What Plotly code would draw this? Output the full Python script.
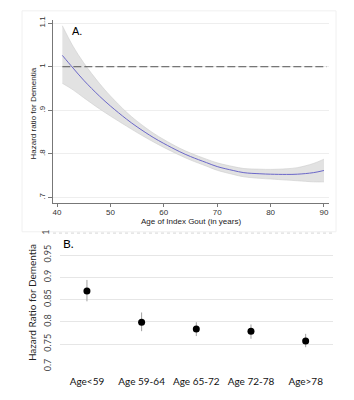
import plotly.graph_objects as go

# Panel A: spline curve of hazard ratio vs age at index gout
ages = [41, 43, 45, 48, 50, 53, 55, 58, 60, 63, 65, 68, 70, 73, 75, 78, 80, 83, 85, 88, 90]
hr = [1.026, 0.997, 0.969, 0.932, 0.910, 0.880, 0.862, 0.838, 0.824, 0.805, 0.794, 0.780, 0.771, 0.762, 0.757, 0.7545, 0.7535, 0.753, 0.7535, 0.757, 0.762]
hr_upper = [1.094, 1.047, 1.009, 0.961, 0.933, 0.896, 0.875, 0.848, 0.833, 0.813, 0.802, 0.788, 0.7795, 0.771, 0.7665, 0.765, 0.7645, 0.766, 0.7685, 0.778, 0.788]
hr_lower = [0.962, 0.947, 0.929, 0.903, 0.887, 0.864, 0.849, 0.828, 0.815, 0.797, 0.786, 0.772, 0.7625, 0.753, 0.7475, 0.744, 0.7425, 0.740, 0.7385, 0.736, 0.736]
a_yticks = [0.7, 0.8, 0.9, 1.0, 1.1]
a_yticklabels = [".7", ".8", ".9", "1", "1.1"]
a_xticks = [40, 50, 60, 70, 80, 90]

# Panel B: categorical age groups
groups = ["Age<59", "Age 59-64", "Age 65-72", "Age 72-78", "Age>78"]
grp_hr = [0.869, 0.799, 0.784, 0.779, 0.757]
grp_upper = [0.894, 0.821, 0.799, 0.794, 0.773]
grp_lower = [0.846, 0.779, 0.768, 0.762, 0.743]
b_yticks = [0.7, 0.75, 0.8, 0.85, 0.9, 0.95, 1.0]
b_yticklabels = ["0.7", "0.75", "0.8", "0.85", "0.9", "0.95", "1"]

W, H = 354, 400
def px(x):
    return x / W
def py(y):
    return 1 - y / H

fig = go.Figure()

# CI band
fig.add_trace(go.Scatter(x=ages, y=hr_lower, mode="lines", line=dict(color="#cccccc", width=0.6, shape="spline"),
                         hoverinfo="skip", showlegend=False, xaxis="x", yaxis="y"))
fig.add_trace(go.Scatter(x=ages, y=hr_upper, mode="lines", line=dict(color="#cccccc", width=0.6, shape="spline"),
                         fill="tonexty", fillcolor="#e2e2e2",
                         hoverinfo="skip", showlegend=False, xaxis="x", yaxis="y"))
# reference line at 1
fig.add_trace(go.Scatter(x=[41, 90.5], y=[1, 1], mode="lines", line=dict(color="#555555", width=1, dash="8px,3px"),
                         showlegend=False, xaxis="x", yaxis="y"))
# fitted curve
fig.add_trace(go.Scatter(x=ages, y=hr, mode="lines", line=dict(color="#6b67c9", width=1, shape="spline"),
                         showlegend=False, xaxis="x", yaxis="y"))

# Panel B points with error bars
err_plus = [u - m for u, m in zip(grp_upper, grp_hr)]
err_minus = [m - l for m, l in zip(grp_hr, grp_lower)]
fig.add_trace(go.Scatter(x=groups, y=grp_hr, mode="markers",
                         marker=dict(color="black", size=7),
                         error_y=dict(type="data", array=err_plus, arrayminus=err_minus,
                                      color="#a0a0a0", thickness=1, width=0),
                         showlegend=False, xaxis="x2", yaxis="y2"))

fontA = "Liberation Sans, Arial, sans-serif"
fontB = "Lato, Open Sans, sans-serif"

fig.update_layout(
    width=W, height=H,
    margin=dict(l=0, r=0, t=0, b=0),
    paper_bgcolor="white", plot_bgcolor="white",
    xaxis=dict(domain=[px(53), px(329)], range=[39.25, 90.94], anchor="y",
               tickvals=a_xticks, ticks="outside", ticklen=3, tickcolor="#777777",
               ticklabelstandoff=-2,
               showline=True, linecolor="#777777", linewidth=1, showgrid=False, zeroline=False,
               tickfont=dict(family=fontA, size=8, color="#333333")),
    yaxis=dict(domain=[py(204), py(16)], range=[0.6865, 1.108], anchor="x",
               tickvals=a_yticks, ticktext=a_yticklabels, tickangle=-90,
               ticks="outside", ticklen=4, tickcolor="#777777",
               showline=True, linecolor="#777777", linewidth=1,
               showgrid=True, gridcolor="#eeeeee", gridwidth=1, zeroline=False,
               tickfont=dict(family=fontA, size=8, color="#333333")),
    xaxis2=dict(domain=[px(59.6), px(333)], range=[-0.5, 4.5], anchor="y2",
                showline=False, showgrid=False, zeroline=False, ticks="", ticklabelstandoff=8,
                tickfont=dict(family=fontB, size=10, color="#111111")),
    yaxis2=dict(domain=[py(370.7), py(234)], range=[0.7, 1.0], anchor="x2",
                tickvals=b_yticks[:-1], ticktext=b_yticklabels[:-1], tickangle=-90,
                showline=False, ticks="", showgrid=True, gridcolor="#e6e6e6", gridwidth=1,
                zeroline=False, ticklabelstandoff=6,
                tickfont=dict(family=fontB, size=9, color="#444444")),
)

# dotted top gridline of panel B (at 1.0) and its label
fig.add_shape(type="line", xref="paper", yref="y2", x0=px(53), x1=px(334), y0=1.0, y1=1.0,
              line=dict(color="#999999", width=1, dash="dot"))
fig.add_annotation(text="1", xref="paper", yref="y2", x=px(46), y=1.0, showarrow=False,
                   xanchor="center", yanchor="middle",
                   textangle=-90, font=dict(family=fontB, size=9, color="#444444"))

# faint frame around panel A
fig.add_shape(type="rect", xref="paper", yref="paper", x0=px(22), x1=px(336), y0=py(233), y1=py(7),
              line=dict(color="#f0f0f0", width=1))

# titles
fig.add_annotation(text="A.", xref="paper", yref="paper", x=px(70), y=py(28), xanchor="left", yanchor="middle",
                   showarrow=False, font=dict(family=fontA, size=11, color="black"))
fig.add_annotation(text="B.", xref="paper", yref="paper", x=px(61), y=py(245), xanchor="left", yanchor="middle",
                   showarrow=False, font=dict(family=fontB, size=12, color="black"))
fig.add_annotation(text="Hazard ratio for Dementia", xref="paper", yref="paper", x=px(33), y=py(112),
                   xanchor="center", yanchor="middle",
                   showarrow=False, textangle=-90, font=dict(family=fontA, size=8, color="#222222"))
fig.add_annotation(text="Age of Index Gout (in years)", xref="paper", yref="paper", x=px(191), y=py(223),
                   xanchor="center", yanchor="middle",
                   showarrow=False, font=dict(family=fontA, size=8, color="#222222"))
fig.add_annotation(text="Hazard Ratio for Dementia", xref="paper", yref="paper", x=px(32), y=py(306),
                   xanchor="center", yanchor="middle",
                   showarrow=False, textangle=-90, font=dict(family=fontB, size=10, color="#222222"))

fig.write_html("out.html")
